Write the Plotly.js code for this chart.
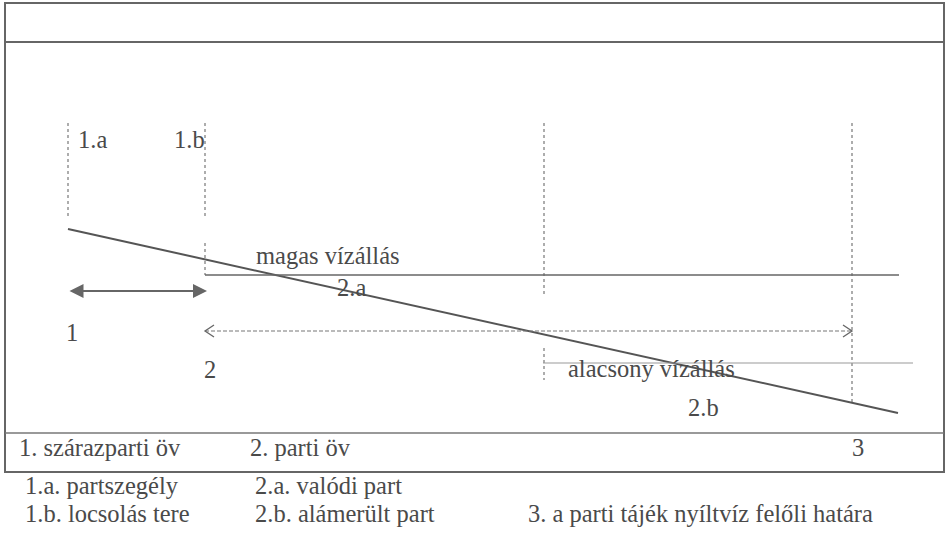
<!DOCTYPE html>
<html>
<head>
<meta charset="utf-8">
<script src="https://cdn.plot.ly/plotly-3.0.1.min.js"></script>
<style>html,body{margin:0;padding:0;background:#fff;}#chart{width:947px;height:535px;}</style>
</head>
<body>
<div id="chart"></div>
<script>
// ---- diagram data (x = distance across the shore, y = depth downward, in drawing units) ----
const boundaryNames = ['1.a', '1.b', 'mid', '3'];
const boundaryX     = [68, 205, 544, 852];
const boundaryTop   = [123, 123, 123, 123];
const boundaryBot   = [217, 217, 295, 402];
// extra short segments of the boundaries (1.b down to high water, mid around low water)
const extraBoundaryX   = [205, 544];
const extraBoundaryTop = [243, 348];
const extraBoundaryBot = [275, 380];

const slopeX = [68, 898];
const slopeY = [229, 413];

const highWaterX = [205, 899];
const highWaterY = [275, 275];
const lowWaterX  = [543, 913];
const lowWaterY  = [363, 363];

const zone1ArrowX = [68, 207];
const zone1ArrowY = 291;
const zone2ArrowX = [205, 852];
const zone2ArrowY = 331;

const labelText = ['1.a', '1.b', 'magas vízállás', '2.a', '1', '2', 'alacsony vízállás', '2.b',
                   '1. szárazparti öv', '2. parti öv', '3',
                   '1.a. partszegély', '2.a. valódi part',
                   '1.b. locsolás tere', '2.b. alámerült part', '3. a parti tájék nyíltvíz felőli határa'];
const labelX = [76, 172, 254, 335, 64, 202, 566, 686,
                17, 248, 850,
                23, 253,
                23, 253, 526];
const labelY = [139, 139, 255, 287, 332, 369, 368, 407,
                447, 447, 447,
                485, 485,
                513, 513, 513];

// ---- build traces ----
const INK = '#555';
const FONT = 'Liberation Serif';
const vx = [], vy = [];
boundaryX.forEach((x, i) => { vx.push(x, x, null); vy.push(boundaryTop[i], boundaryBot[i], null); });
extraBoundaryX.forEach((x, i) => { vx.push(x, x, null); vy.push(extraBoundaryTop[i], extraBoundaryBot[i], null); });

// open chevron heads for the dashed arrow, derived from its end points
const HEAD_L = 9, HEAD_H = 6;
const chevX = [zone2ArrowX[1] - HEAD_L, zone2ArrowX[1], zone2ArrowX[1] - HEAD_L, null,
               zone2ArrowX[0] + HEAD_L, zone2ArrowX[0], zone2ArrowX[0] + HEAD_L];
const chevY = [zone2ArrowY - HEAD_H, zone2ArrowY, zone2ArrowY + HEAD_H, null,
               zone2ArrowY - HEAD_H, zone2ArrowY, zone2ArrowY + HEAD_H];

const traces = [
  {x: vx, y: vy, mode: 'lines', line: {color: '#777', width: 1.2, dash: 'dot'}, hoverinfo: 'skip'},
  {x: slopeX, y: slopeY, mode: 'lines', line: {color: INK, width: 2}, hoverinfo: 'skip'},
  {x: highWaterX, y: highWaterY, mode: 'lines', line: {color: '#666', width: 1.5}, hoverinfo: 'skip'},
  {x: lowWaterX, y: lowWaterY, mode: 'lines', line: {color: '#999', width: 1}, hoverinfo: 'skip'},
  {x: zone2ArrowX, y: [zone2ArrowY, zone2ArrowY], mode: 'lines', line: {color: '#777', width: 1.2, dash: '4px,2px'}, hoverinfo: 'skip'},
  {x: chevX, y: chevY, mode: 'lines', line: {color: '#666', width: 1.3}, hoverinfo: 'skip'}
];

const annotations = labelText.map((t, i) => ({
  x: labelX[i], y: labelY[i], xref: 'x', yref: 'y', text: t, showarrow: false,
  xanchor: 'left', yanchor: 'middle',
  font: {family: FONT, size: 24.5, color: '#4a4a4a'}
}));

// solid double arrow (zone 1)
annotations.push({
  x: zone1ArrowX[1], y: zone1ArrowY, ax: zone1ArrowX[0], ay: zone1ArrowY,
  xref: 'x', yref: 'y', axref: 'x', ayref: 'y', text: '', showarrow: true,
  arrowside: 'end+start', arrowhead: 2, arrowsize: 1.4, arrowwidth: 2, arrowcolor: '#666'
});

const BOX = {color: '#666', width: 2};
const shapes = [
  {type: 'rect', xref: 'x', yref: 'y', x0: 5, x1: 944, y0: 3, y1: 472, line: BOX},
  {type: 'line', xref: 'x', yref: 'y', x0: 5, x1: 944, y0: 42, y1: 42, line: BOX},
  {type: 'line', xref: 'x', yref: 'y', x0: 5, x1: 944, y0: 433, y1: 433, line: {color: '#777', width: 1.5}}
];

const layout = {
  width: 947, height: 535,
  margin: {l: 0, r: 0, t: 0, b: 0},
  paper_bgcolor: '#fff', plot_bgcolor: '#fff',
  showlegend: false,
  font: {family: FONT},
  xaxis: {range: [0, 947], visible: false, fixedrange: true},
  yaxis: {range: [535, 0], visible: false, fixedrange: true},
  annotations: annotations,
  shapes: shapes
};

Plotly.newPlot('chart', traces, layout, {staticPlot: true, displayModeBar: false});
</script>
</body>
</html>
